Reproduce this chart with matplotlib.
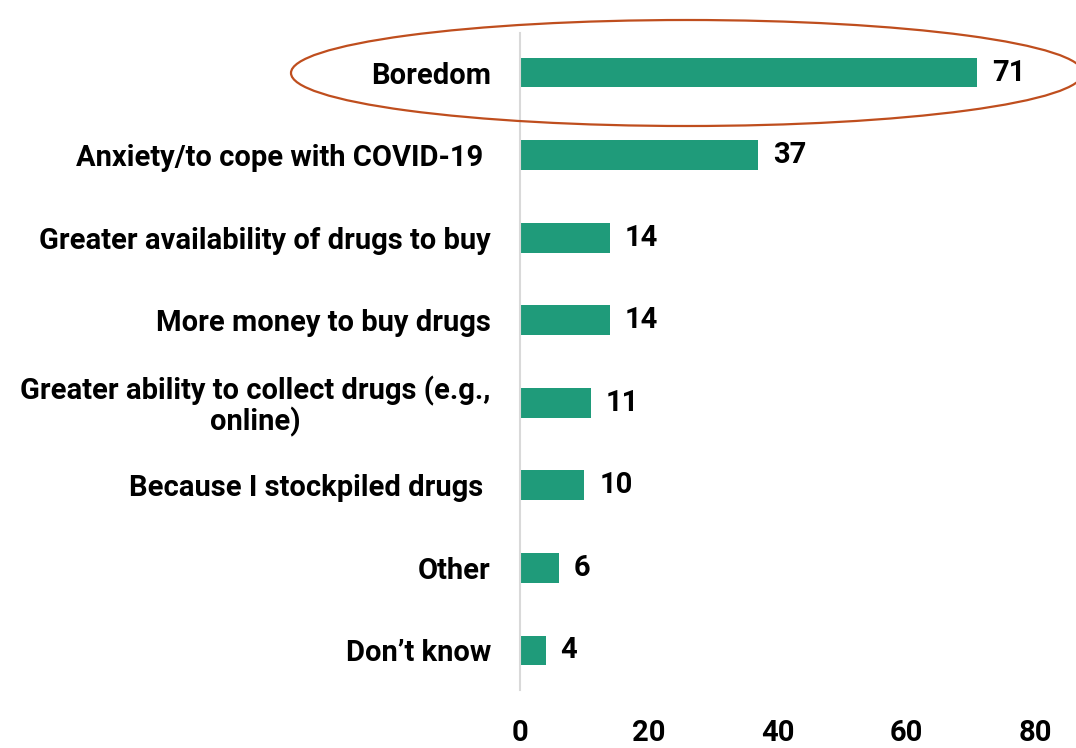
import matplotlib.pyplot as plt
from matplotlib.patches import Ellipse

reasons = ['Boredom', 'Anxiety/to cope with COVID-19 ', 'Greater availability of drugs to buy',
           'More money to buy drugs', 'Greater ability to collect drugs (e.g.,\nonline)',
           'Because I stockpiled drugs ', 'Other', 'Don\u2019t know']
values = [71, 37, 14, 14, 11, 10, 6, 4]
xticks = [0, 20, 40, 60, 80]

plt.rcParams['font.family'] = ['Roboto', 'DejaVu Sans']
plt.rcParams['font.weight'] = 'bold'
FS = 21

fig = plt.figure(figsize=(10.76, 7.48), dpi=100)
ax = fig.add_axes([0.4833, 0.0775, 0.4786, 0.8784])

pos = list(range(len(reasons)))
ax.barh(pos, values, height=0.36, color='#1F9B7A')
for y, v in zip(pos, values):
    ax.text(v + 2.3, y, str(v), va='center', ha='left', fontsize=FS, fontweight='bold')

ax.set_xlim(0, 80)
ax.set_ylim(7.48, -0.48)
ax.set_xticks(xticks)
ax.set_xticklabels([str(t) for t in xticks], fontsize=FS, fontweight='bold')
ax.set_yticks(pos)
ax.set_yticklabels(reasons, fontsize=FS, fontweight='bold', multialignment='center',
                   linespacing=1.05)
ax.tick_params(axis='both', length=0)
ax.tick_params(axis='y', pad=21)
ax.tick_params(axis='x', pad=21)

for s in ['top', 'right', 'bottom']:
    ax.spines[s].set_visible(False)
ax.spines['left'].set_color('#D9D9D9')
ax.spines['left'].set_linewidth(1.5)

# highlight ring around the top reason
ring = Ellipse((687 / 1076, 1 - 73 / 748), 792 / 1076, 106 / 748, transform=fig.transFigure,
               fill=False, edgecolor='#BF4E1E', linewidth=1.6, clip_on=False)
fig.add_artist(ring)

fig.savefig('out.png', dpi=100)
